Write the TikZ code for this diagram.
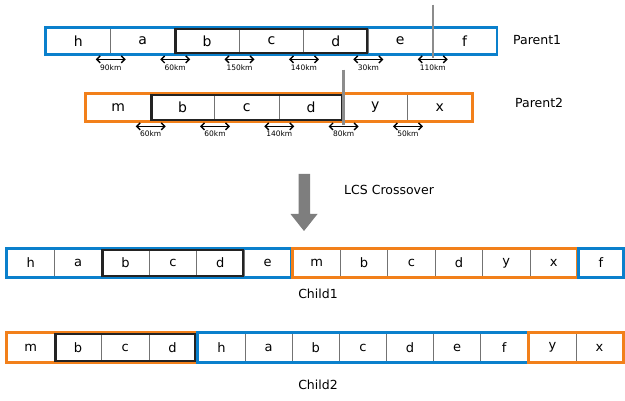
\documentclass[tikz,border=0pt]{standalone}
\usepackage{fontspec}
\setmainfont{DejaVu Sans}
\usepackage{xcolor}
\usepackage{tikz}
\usetikzlibrary{arrows.meta,positioning,fit,calc}
\definecolor{genblue}{RGB}{10,128,204}
\definecolor{genorange}{RGB}{242,128,26}
\definecolor{lcsdark}{RGB}{35,35,35}
\definecolor{cutgray}{RGB}{140,140,140}
\definecolor{cellgray}{RGB}{115,115,115}
\tikzset{
  genecell/.style={draw=cellgray, line width=0.8pt, fill=white, inner sep=0pt, align=center},
  parentcell/.style={genecell, minimum width=64.3pt, minimum height=26pt, font=\fontsize{14}{14}\selectfont},
  childcell/.style={genecell, minimum width=47.3pt, minimum height=28pt, font=\fontsize{13}{13}\selectfont},
  blueframe/.style={draw=genblue, line width=2.6pt, inner sep=0pt},
  orangeframe/.style={draw=genorange, line width=2.6pt, inner sep=0pt},
  lcsframe/.style={draw=lcsdark, line width=2.8pt, inner sep=-1.4pt},
  cutline/.style={draw=cutgray, line width=2.4pt},
  distarrow/.style={{Straight Barb[length=3.5pt,width=7pt]}-{Straight Barb[length=3.5pt,width=7pt]}, line width=1.4pt},
  kmlabel/.style={font=\fontsize{7.5}{8}\selectfont, inner sep=0pt},
  rowlabel/.style={font=\fontsize{12.5}{14}\selectfont, inner sep=0pt, anchor=west}
}
\begin{document}
\begin{tikzpicture}[x=1pt,y=-1pt]
\useasboundingbox (0,0) rectangle (625,401);
% parent 1
\foreach \l [count=\i] in {h,a,b,c,d,e,f} {
  \node[parentcell] (pa\i) at ({46+64.4*(\i-0.5)},41) {\l};
}
\node[blueframe, fit=(pa1)(pa7)] (pafr) {};
\node[lcsframe, fit=(pa3)(pa5)] (palcs) {};
\draw[cutline] ([yshift=23pt]pa6.north east) -- ([yshift=-4pt]pa6.south east);
\foreach \i/\d in {1/90km,2/60km,3/150km,4/140km,5/30km,6/110km} {
  \draw[distarrow] ([xshift=-15pt,yshift=-5pt]pa\i.south east) -- ([xshift=15pt,yshift=-5pt]pa\i.south east)
    node[midway, below=4.5pt, kmlabel] {\d};
}
\node[rowlabel] (parent1) at (513,40) {Parent1};
% parent 2
\foreach \l [count=\i] in {m,b,c,d,y,x} {
  \node[parentcell, minimum height=27pt] (pb\i) at ({86+64.3*(\i-0.5)},107.5) {\l};
}
\node[orangeframe, fit=(pb1)(pb6)] (pbfr) {};
\node[lcsframe, fit=(pb2)(pb4)] (pblcs) {};
\draw[cutline] ([yshift=24pt]pb4.north east) -- ([yshift=-4pt]pb4.south east);
\foreach \i/\d in {1/60km,2/60km,3/140km,4/80km,5/50km} {
  \draw[distarrow] ([xshift=-15pt,yshift=-5pt]pb\i.south east) -- ([xshift=15pt,yshift=-5pt]pb\i.south east)
    node[midway, below=4pt, kmlabel] {\d};
}
\node[rowlabel] (parent2) at (515,103) {Parent2};
% crossover
\fill[cutgray!90!black] (298.5,174) -- (310,174) -- (310,214) -- (317.5,214) -- (304,231) -- (290.5,214) -- (298.5,214) -- cycle;
\node[rowlabel] (lcsx) at (344,190) {LCS Crossover};
% child 1
\foreach \l [count=\i] in {h,a,b,c,d,e} {
  \node[childcell] (ca\i) at ({7+47.4*(\i-0.5)},263) {\l};
}
\foreach \l [count=\i] in {m,b,c,d,y,x} {
  \node[childcell] (cb\i) at ({293+47.4*(\i-0.5)},263) {\l};
}
\node[childcell, minimum width=44pt] (cc1) at (601,263) {f};
\node[blueframe, fit=(ca1)(ca6)] (cafr) {};
\node[lcsframe, fit=(ca3)(ca5)] (calcs) {};
\node[orangeframe, fit=(cb1)(cb6)] (cbfr) {};
\node[blueframe, fit=(cc1)] (ccfr) {};
\node[font=\fontsize{12.5}{14}\selectfont] (child1) at (318,294) {Child1};
% child 2
\foreach \l [count=\i] in {m,b,c,d} {
  \node[childcell, minimum height=29pt] (da\i) at ({7+47.3*(\i-0.5)},347.5) {\l};
}
\foreach \l [count=\i] in {h,a,b,c,d,e,f} {
  \node[childcell, minimum width=47.1pt, minimum height=29pt] (db\i) at ({198+47.1*(\i-0.5)},347.5) {\l};
}
\foreach \l [count=\i] in {y,x} {
  \node[childcell, minimum width=47pt, minimum height=29pt] (dc\i) at ({529+47*(\i-0.5)},347.5) {\l};
}
\node[orangeframe, fit=(da1)(da4)] (dafr) {};
\node[lcsframe, fit=(da2)(da4)] (dalcs) {};
\node[blueframe, fit=(db1)(db7)] (dbfr) {};
\node[orangeframe, fit=(dc1)(dc2)] (dcfr) {};
\node[font=\fontsize{12.5}{14}\selectfont] (child2) at (318,385) {Child2};
\end{tikzpicture}
\end{document}
